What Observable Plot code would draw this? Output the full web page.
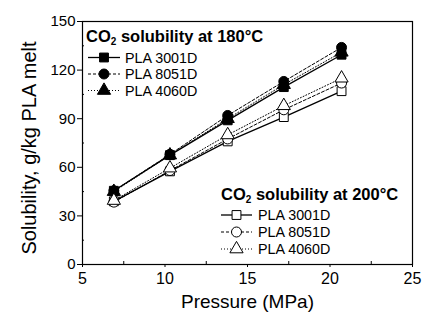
<!DOCTYPE html>
<html>
<head>
<meta charset="utf-8">
<script src="https://cdn.jsdelivr.net/npm/d3@7"></script>
<script src="https://cdn.jsdelivr.net/npm/@observablehq/plot@0.6"></script>
<style>
  html, body { margin: 0; padding: 0; background: #fff; }
  #chart { width: 434px; height: 321px; }
  svg { font-family: "Liberation Sans", Arial, sans-serif; }
</style>
</head>
<body>
<div id="chart"></div>
<script>
// ---- data ----
const pressure = [6.9, 10.3, 13.8, 17.2, 20.7];
const grades = ["PLA 3001D", "PLA 8051D", "PLA 4060D"];
const temps = ["180", "200"];
const sol180_3001D = [45.5, 67.5, 89, 109.5, 129.5];
const sol180_8051D = [45.5, 68, 92, 113, 134];
const sol180_4060D = [45, 67.5, 90, 111, 131];
const sol200_3001D = [39, 57.5, 76, 91, 107];
const sol200_8051D = [38.5, 58, 77.5, 95.5, 112];
const sol200_4060D = [39.5, 59.5, 80, 98, 115];
const xTicks = [5, 10, 15, 20, 25];
const xMinor = [7.5, 12.5, 17.5, 22.5];
const yTicks = [0, 30, 60, 90, 120, 150];
const yMinor = [15, 45, 75, 105, 135];
const xLabel = "Pressure (MPa)";
const yLabel = "Solubility, g/kg PLA melt";

// ---- styles ----
const symbols = {"PLA 3001D": "square", "PLA 8051D": "circle", "PLA 4060D": "triangle"};
const dashes = {"PLA 3001D": null, "PLA 8051D": "3,2", "PLA 4060D": "1,2"};
const widths = {"PLA 3001D": 1.3, "PLA 8051D": 1, "PLA 4060D": 1};
const radius = {"PLA 3001D": 5, "PLA 8051D": 5, "PLA 4060D": 4.9};

const series = {
  "180": [sol180_3001D, sol180_8051D, sol180_4060D],
  "200": [sol200_3001D, sol200_8051D, sol200_4060D]
};
const rows = [];
for (const t of temps) {
  grades.forEach((g, gi) => {
    series[t][gi].forEach((v, i) => rows.push({temp: t, grade: g, p: pressure[i], s: v}));
  });
}

const lineMarks = [];
const dotMarks = [];
for (const t of temps) {
  for (const g of grades) {
    const d = rows.filter(r => r.temp === t && r.grade === g);
    lineMarks.push(Plot.line(d, {x: "p", y: "s", stroke: "black", strokeWidth: widths[g],
      strokeDasharray: dashes[g] || undefined}));
    dotMarks.push(Plot.dot(d, {x: "p", y: "s", symbol: () => symbols[g], r: radius[g],
      fill: t === "180" ? "black" : "white", stroke: "black", strokeWidth: 1}));
  }
}

function legendMark(temp, x0, yTitle, yRows, lineX1, lineX2, textX) {
  return (index, scales, values, dims) => {
    const g = d3.create("svg:g").attr("fill", "black").attr("text-anchor", "start");
    const title = g.append("text").attr("x", x0).attr("y", yTitle)
      .attr("font-size", 16.5).attr("font-weight", "bold").attr("text-anchor", "start");
    title.append("tspan").text("CO");
    title.append("tspan").attr("font-size", 10).attr("dy", 3).text("2");
    title.append("tspan").attr("dy", -3).text(" solubility at " + temp + "°C");
    grades.forEach((gr, i) => {
      const y = yRows[i];
      g.append("line").attr("x1", lineX1).attr("x2", lineX2).attr("y1", y).attr("y2", y)
        .attr("stroke", "black").attr("stroke-width", widths[gr])
        .attr("stroke-dasharray", dashes[gr]);
      const type = {square: d3.symbolSquare, circle: d3.symbolCircle, triangle: d3.symbolTriangle}[symbols[gr]];
      g.append("path").attr("d", d3.symbol().type(type).size(radius[gr] * radius[gr] * Math.PI)())
        .attr("transform", `translate(${(lineX1 + lineX2) / 2},${y})`)
        .attr("fill", temp === "180" ? "black" : "white").attr("stroke", "black");
      g.append("text").attr("x", textX).attr("y", y + 5)
        .attr("font-size", 14.3).attr("text-anchor", "start").text(gr);
    });
    return g.node();
  };
}

const chart = Plot.plot({
  width: 434,
  height: 321,
  marginLeft: 82,
  marginRight: 22,
  marginTop: 21,
  marginBottom: 57,
  style: {color: "black", background: "white", fontFamily: "Liberation Sans, Arial, sans-serif"},
  x: {domain: [5, 25]},
  y: {domain: [0, 150]},
  marks: [
    Plot.frame({stroke: "black", strokeWidth: 1.2}),
    Plot.axisX({ticks: xTicks, tickSize: 3, tickPadding: 5, fontSize: 16, label: null, tickFormat: d => String(d)}),
    Plot.axisY({ticks: yTicks, tickSize: 5, tickPadding: 2, fontSize: 15, label: null, tickFormat: d => String(d)}),
    Plot.tickX(xMinor, {x: d => d, stroke: "black", insetTop: 240}),
    Plot.tickY(yMinor, {y: d => d, stroke: "black", insetRight: 328}),
    Plot.text([xLabel], {frameAnchor: "bottom", dy: 43, fontSize: 19, fill: "black", lineAnchor: "bottom", textAnchor: "middle"}),
    Plot.text([yLabel], {frameAnchor: "left", dx: -53, dy: 5, rotate: -90, fontSize: 20, fill: "black", lineAnchor: "middle", textAnchor: "middle"}),
    ...lineMarks,
    ...dotMarks,
    legendMark("180", 86, 42, [57.5, 74, 90.5], 88, 120, 125),
    legendMark("200", 221, 200, [215, 232, 249], 221, 252, 258)
  ]
});
document.getElementById("chart").append(chart);
</script>
</body>
</html>
